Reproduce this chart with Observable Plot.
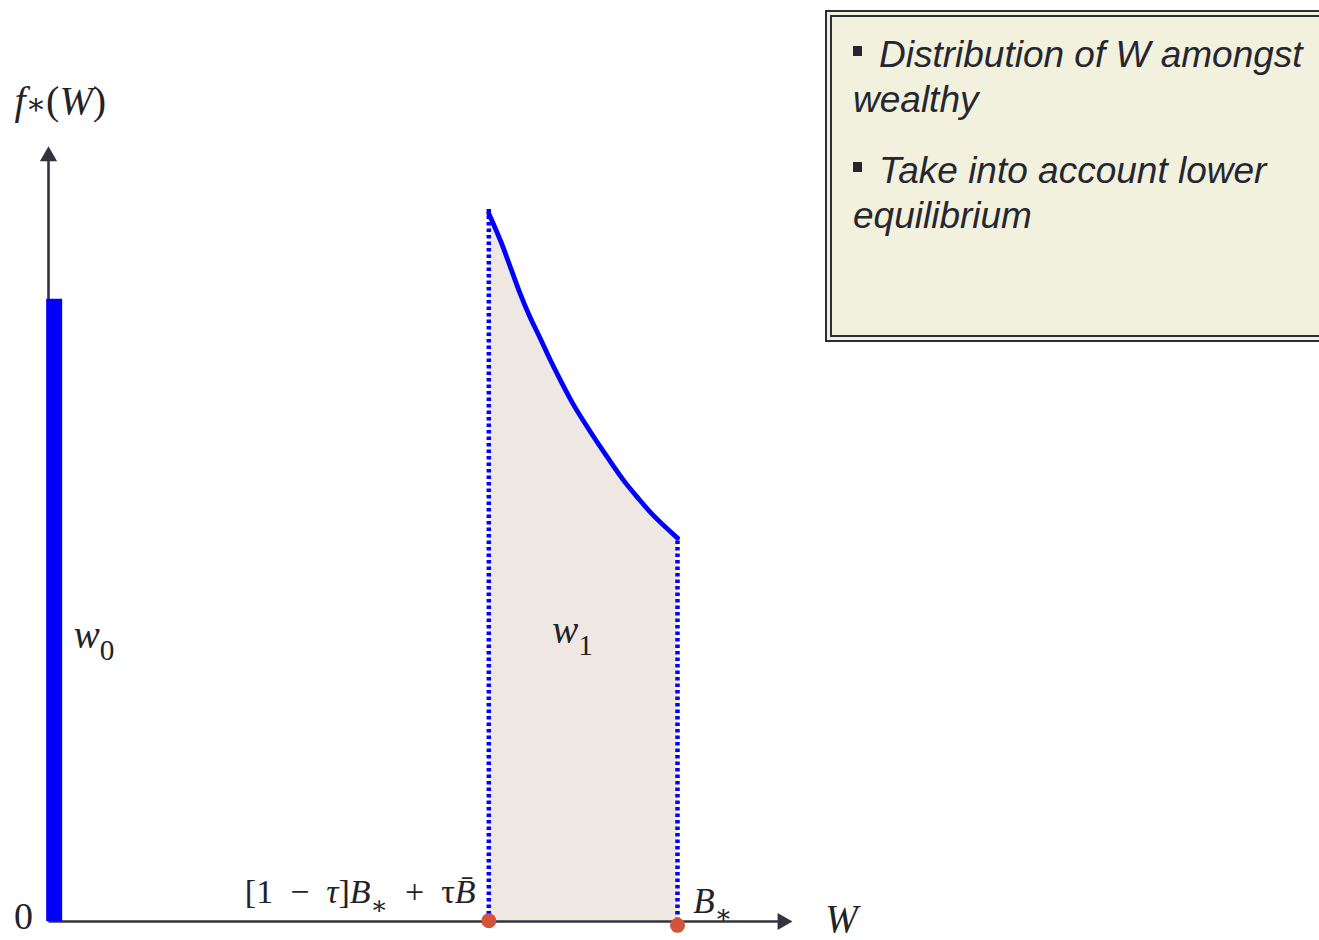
<!DOCTYPE html>
<html>
<head>
<meta charset="utf-8">
<script src="https://cdn.jsdelivr.net/npm/d3@7"></script>
<script src="https://cdn.jsdelivr.net/npm/@observablehq/plot@0.6"></script>
<style>
  body { margin: 0; background: #ffffff; }
  #wrap { position: relative; width: 1319px; height: 940px; overflow: hidden; }
  #chart { position: absolute; left: 0; top: 0; }
  #note {
    position: absolute; left: 825px; top: 10px;
    width: 520px; height: 303px;
    border: 7px double #2d2d38; background: #f2f1de;
    padding: 15px 0 0 21px;
    font-family: "Liberation Sans", Arial, sans-serif; font-style: italic;
    font-size: 37px; line-height: 45px; color: #262630;
  }
  #note p { margin: 0 0 26px 0; }
  #note .bullet {
    display: inline-block; width: 9px; height: 10px; background: #262630;
    vertical-align: 11px; margin-right: 17px;
  }
</style>
</head>
<body>
<div id="wrap">
  <div id="chart"></div>
  <div id="note"></div>
</div>
<script>
// ---- data (W in model units, f = density in model units) ----
const curveW = [7.0, 7.19, 7.35, 7.50, 7.66, 7.82, 7.98, 8.14, 8.35, 8.62, 8.89, 9.14, 9.36, 9.62, 10.0];
const curveF = [9.16, 8.80, 8.45, 8.12, 7.81, 7.54, 7.26, 7.00, 6.68, 6.33, 6.00, 5.71, 5.49, 5.25, 4.96];
const massW = [0.09];            // point mass at W = 0 (bar)
const massF = [8.05];
const boundW = [7.0, 10.0];      // [1-τ]B* + τB̄  and  B*
const boundTop = [9.24, 4.96];   // top of dotted guides
const dotF = [0.01, -0.05];      // red markers on the axis
const axisEnd = [11.67, 9.90];   // x-axis end, y-axis end

const noteItems = [
  ["Distribution of W amongst", "wealthy"],
  ["Take into account lower", "equilibrium"]
];

// labels: text (with simple markup), anchor, x, y, size
const labelText = [
  "<i>f</i><s>∗</s>(<i>W</i>)",
  "0",
  "<i>w</i><sub>0</sub>",
  "<i>w</i><sub>1</sub>",
  "[1\u2002−\u2002<i>τ</i>]<i>B</i><sub>∗</sub>\u2002+\u2002τ<i>B\u0304</i>",
  "<i>B</i><sub>∗</sub>",
  "<i>W</i>"
];
const labelX = [-0.54, -0.55, 0.40, 8.01, 6.79, 10.25, 12.35];
const labelY = [10.45, -0.10, 3.54, 3.6, 0.233, 0.116, -0.13];
const labelAnchor = ["start", "start", "start", "start", "end", "start", "start"];
const labelSize = [40, 38, 39, 39, 34, 35, 39];

// ---- build tables ----
const curve = curveW.map((w, i) => ({w, f: curveF[i]}));
const mass = massW.map((w, i) => ({w, f: massF[i]}));
const bounds = boundW.map((w, i) => ({w, top: boundTop[i], dot: dotF[i]}));
const axes = [
  {x1: 0, y1: 0, x2: axisEnd[0], y2: 0, rot: 90},
  {x1: 0, y1: 0, x2: 0, y2: axisEnd[1], rot: 0}
];
const labels = labelText.map((t, i) => ({t, x: labelX[i], y: labelY[i], a: labelAnchor[i], s: labelSize[i]}));

const ink = "#33333f";
const plot = Plot.plot({
  width: 1319,
  height: 940,
  style: {background: "transparent", overflow: "visible"},
  x: {domain: [0, 12], range: [48, 48 + 12 * 62.9], axis: null},
  y: {domain: [0, 10], range: [921, 148], axis: null},
  marks: [
    Plot.areaY(curve, {x: "w", y: "f", fill: "#efe8e2", curve: "catmull-rom"}),
    Plot.ruleX(bounds, {x: "w", y1: 0, y2: "top", stroke: "#0000ff", strokeWidth: 4.5, strokeDasharray: "3.5,3"}),
    Plot.line(curve, {x: "w", y: "f", stroke: "#0000ff", strokeWidth: 4.8, curve: "catmull-rom"}),
    Plot.link(axes, {x1: "x1", y1: "y1", x2: "x2", y2: "y2", stroke: ink, strokeWidth: 2.6}),
    Plot.dot(axes, {x: "x2", y: "y2", symbol: "triangle", r: 6.4, fill: ink, rotate: "rot"}),
    Plot.ruleX(mass, {x: "w", y1: 0, y2: "f", stroke: "#0000ff", strokeWidth: 16}),
    Plot.dot(bounds, {x: "w", y: "dot", r: 7.5, fill: "#d2553b"}),
    ...labels.map(d => Plot.text([d], {
      x: "x", y: "y", text: "t", textAnchor: d.a, lineAnchor: "bottom",
      fontSize: d.s, fontFamily: "Liberation Serif, 'DejaVu Serif', serif", fill: "#222228"
    }))
  ]
});

// turn the simple markup into real tspans
d3.select(plot).selectAll("text").each(function () {
  const s = this.textContent;
  if (!s.includes("<")) return;
  const el = d3.select(this);
  el.text(null);
  const re = /<(i|sub|s)>(.*?)<\/\1>|([^<]+)/g;
  let m, shifted = false;
  while ((m = re.exec(s))) {
    const t = el.append("tspan");
    if (m[3] != null) {
      t.text(m[3]);
      if (shifted) { t.attr("dy", "-0.3em"); shifted = false; }
    } else if (m[1] === "i") {
      t.text(m[2]).attr("font-style", "italic");
      if (shifted) { t.attr("dy", "-0.3em"); shifted = false; }
    } else if (m[1] === "sub") {
      t.text(m[2]).attr("font-size", "75%").attr("dy", (0.3 / 0.75) + "em");
      shifted = true;
    } else if (m[1] === "s") {
      t.text(m[2]).attr("font-size", "75%");
      if (shifted) { t.attr("dy", "-0.3em"); shifted = false; }
    }
  }
});

document.getElementById("chart").appendChild(plot);

// note box
const note = d3.select("#note");
noteItems.forEach(lines => {
  const p = note.append("p");
  p.append("span").attr("class", "bullet");
  lines.forEach((line, i) => {
    if (i > 0) p.append("br");
    p.append("span").text(line);
  });
});
</script>
</body>
</html>
